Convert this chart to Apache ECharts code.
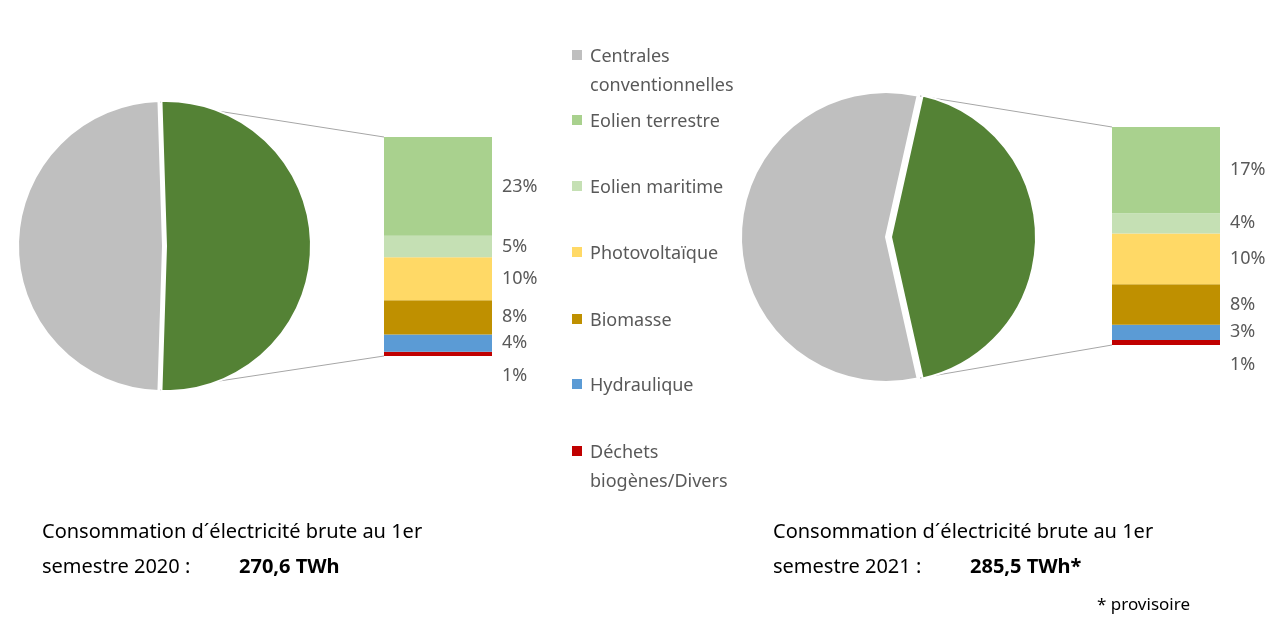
<!DOCTYPE html>
<html><head><meta charset="utf-8">
<script src="https://cdn.jsdelivr.net/npm/echarts@6/dist/echarts.min.js"></script>
<style>html,body{margin:0;background:#fff}#c{width:1280px;height:635px}</style>
</head><body><div id="c"></div>
<script>
const sources = ['Déchets biogènes/Divers','Hydraulique','Biomasse','Photovoltaïque','Eolien maritime','Eolien terrestre'];
const colors = ['#c00000','#5b9bd5','#bf9000','#ffd966','#c5e0b4','#a9d18e'];
const values2020 = [1,4,8,10,5,23];
const values2021 = [1,3,8,10,4,17];
const pie2020 = [51,49];
const pie2021 = [43,57];
const legendNames = ['Centrales\nconventionnelles','Eolien terrestre','Eolien maritime','Photovoltaïque','Biomasse','Hydraulique','Déchets\nbiogènes/Divers'];
const legendColors = ['#bfbfbf','#a9d18e','#c5e0b4','#ffd966','#bf9000','#5b9bd5','#c00000'];
const legendY = [55,120,186,252,319,384,451];
const F = '"Noto Sans", sans-serif';
const chart = echarts.init(document.getElementById('c'));
function bars(vals, gi){
  const total = vals.reduce((a,b)=>a+b,0);
  return vals.map((v,i)=>({type:'bar',name:sources[i],stack:'s'+gi,xAxisIndex:gi,yAxisIndex:gi,
    barWidth:'100%',data:[v],itemStyle:{color:colors[i]},
    label:{show:true,position:'right',distance:10,offset:[0,i===0?22:0],formatter:v+'%',color:'#595959',fontSize:18,fontFamily:F}}));
}
const graphic = [];
legendNames.forEach((n,i)=>{
  graphic.push({type:'rect',shape:{x:572,y:legendY[i]-5,width:10,height:10},style:{fill:legendColors[i]}});
  graphic.push({type:'text',x:590,y:legendY[i]-13,style:{text:n,font:'18px '+F,fill:'#595959',lineHeight:29}});
});
const lc = '#a6a6a6';
[[160,102,384,137],[160,390,384,356],[920,96,1112,127],[920,378,1112,345]].forEach(p=>
  graphic.push({type:'line',shape:{x1:p[0],y1:p[1],x2:p[2],y2:p[3]},style:{stroke:lc,lineWidth:1}}));
function greyLabel(x,y,pct,bx){
  graphic.push({type:'text',x:x,y:y,style:{text:'Centrales\nthermiques\nà flamme,\nnucléaire et\nle solde\nd´échange :',font:'16px '+F,fill:'#000',lineHeight:26}});
  graphic.push({type:'text',x:bx,y:y+156,style:{text:pct,font:'bold 16px '+F,fill:'#000'}});
}
greyLabel(56,152,'49 %',80);
greyLabel(780,146,'57%',808);
graphic.push({type:'text',x:178,y:198,style:{text:'Énergies\nrenouvelables',font:'16px '+F,fill:'#fff',lineHeight:26}});
graphic.push({type:'text',x:202,y:250,style:{text:'51%',font:'bold 16px '+F,fill:'#fff'}});
graphic.push({type:'text',x:903,y:198,style:{text:'Énergies\nrenouvelables',font:'16px '+F,fill:'#fff',lineHeight:26}});
graphic.push({type:'text',x:930,y:250,style:{text:'43%',font:'bold 16px '+F,fill:'#fff'}});
function bottom(x,yr,val){
  graphic.push({type:'text',x:x,y:522,style:{text:'Consommation d´électricité brute au 1er',font:'20px '+F,fill:'#000'}});
  graphic.push({type:'text',x:x,y:557,style:{text:'semestre '+yr+' :',font:'20px '+F,fill:'#000'}});
  graphic.push({type:'text',x:x+197,y:557,style:{text:val,font:'bold 20px '+F,fill:'#000'}});
}
bottom(42,'2020','270,6 TWh');
bottom(773,'2021','285,5 TWh*');
graphic.push({type:'text',x:1097,y:597,style:{text:'* provisoire',font:'17px '+F,fill:'#000'}});

chart.setOption({
  animation:false,
  grid:[{left:384,width:108,top:137,height:219},{left:1112,width:108,top:127,height:218}],
  xAxis:[{type:'category',data:['a'],gridIndex:0,show:false},{type:'category',data:['a'],gridIndex:1,show:false}],
  yAxis:[{type:'value',gridIndex:0,min:0,max:51,show:false},{type:'value',gridIndex:1,min:0,max:43,show:false}],
  series:[
    {type:'pie',center:[163,246],radius:145,startAngle:90+(pie2020[0]/100*360-180)/2,label:{show:false},silent:true,
      selectedMode:'single',selectedOffset:3,
      itemStyle:{borderColor:'#fff',borderWidth:2},
      data:[{value:pie2020[0],itemStyle:{color:'#548235'},selected:true},{value:pie2020[1],itemStyle:{color:'#bfbfbf'}}]},
    {type:'pie',center:[886,237],radius:145,startAngle:pie2021[0]/100*180,label:{show:false},silent:true,
      selectedMode:'single',selectedOffset:5,
      itemStyle:{borderColor:'#fff',borderWidth:2},
      data:[{value:pie2021[0],itemStyle:{color:'#548235'},selected:true},{value:pie2021[1],itemStyle:{color:'#bfbfbf'}}]},
    ...bars(values2020,0), ...bars(values2021,1)
  ],
  graphic:graphic
});
</script></body></html>
